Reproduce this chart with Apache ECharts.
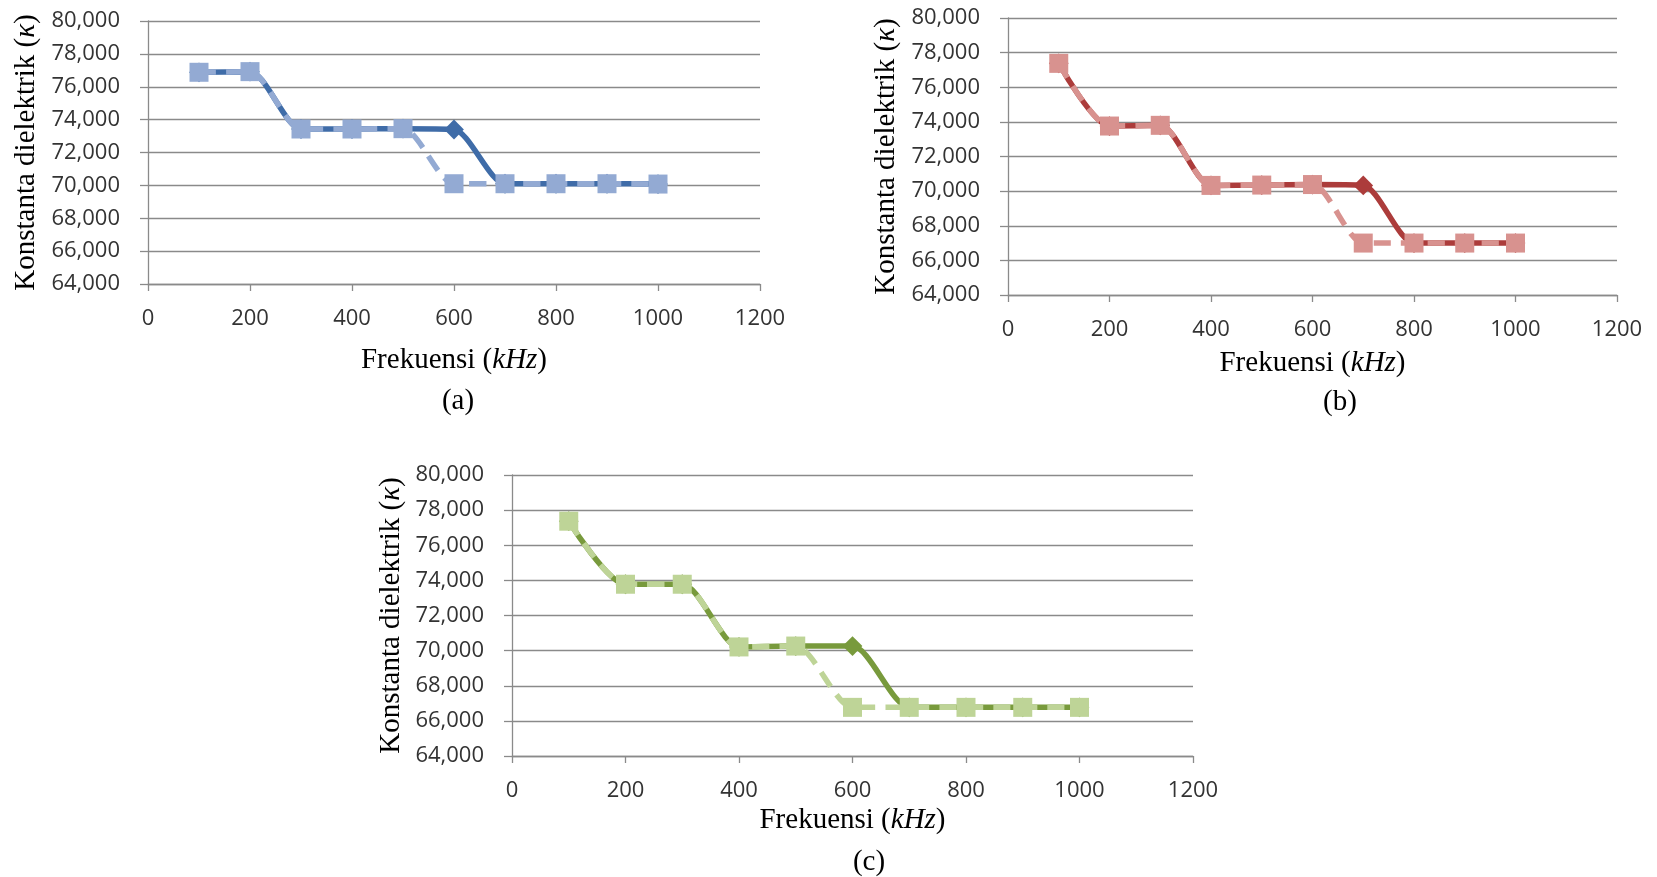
<!DOCTYPE html>
<html>
<head>
<meta charset="utf-8">
<script src="https://cdn.jsdelivr.net/npm/echarts@6/dist/echarts.min.js"></script>
<style>
  html, body { margin: 0; padding: 0; background: #ffffff; }
  #chart { width: 1657px; height: 877px; }
</style>
</head>
<body>
<div id="chart"></div>
<script>
// Frequencies (kHz) shared by all three panels
const freq = [100, 200, 300, 400, 500, 600, 700, 800, 900, 1000];

// Panel (a): dielectric constant, solid curve and dashed curve
const aSolid  = [76880, 76920, 73430, 73430, 73450, 73400, 70100, 70100, 70100, 70080];
const aDashed = [76880, 76920, 73430, 73430, 73450, 70100, 70100, 70100, 70100, 70080];

// Panel (b)
const bSolid  = [77380, 73760, 73800, 70330, 70350, 70380, 70330, 67000, 67000, 67000];
const bDashed = [77380, 73760, 73800, 70330, 70350, 70380, 67000, 67000, 67000, 67000];

// Panel (c)
const cSolid  = [77370, 73780, 73780, 70210, 70260, 70260, 66770, 66770, 66770, 66770];
const cDashed = [77370, 73780, 73780, 70210, 70260, 66770, 66770, 66770, 66770, 66770];

// Axis ranges and tick steps
const xRange = [0, 1200];
const xStep = 200;
const yRange = [64000, 80000];
const yStep = 2000;

// Texts
const panelTags = ['(a)', '(b)', '(c)'];
const xTitle = 'Frekuensi ({i|kHz})';
const yTitle = 'Konstanta dielektrik ({i|κ})';

const serif = '"Liberation Serif", "DejaVu Serif", serif';
const sans = '"Open Sans", "Liberation Sans", sans-serif';
const gridGray = '#8a8a8a';
const titleSize = 29;

const panels = [
  { solid: aSolid, dashed: aDashed, dark: '#3f6ca8', light: '#93aad3',
    grid: { left: 148, top: 21, width: 612, height: 263 }, xGap: 62, yGap: 107,
    tag: { x: 458, y: 401 } },
  { solid: bSolid, dashed: bDashed, dark: '#ac3c3b', light: '#d8928f',
    grid: { left: 1008, top: 18, width: 609, height: 277 }, xGap: 54, yGap: 107,
    tag: { x: 1340, y: 402 } },
  { solid: cSolid, dashed: cDashed, dark: '#789a3c', light: '#bed497',
    grid: { left: 512, top: 475, width: 681, height: 281 }, xGap: 50, yGap: 106,
    tag: { x: 869, y: 862 } }
];

const italicRich = { i: { fontFamily: serif, fontSize: titleSize, fontStyle: 'italic', color: '#000' } };

const option = {
  animation: false,
  backgroundColor: '#ffffff',
  grid: panels.map(p => Object.assign({ containLabel: false }, p.grid)),
  xAxis: panels.map((p, i) => ({
    type: 'value',
    gridIndex: i,
    min: xRange[0], max: xRange[1], interval: xStep,
    name: xTitle,
    nameLocation: 'middle',
    nameGap: p.xGap,
    nameTextStyle: { fontFamily: serif, fontSize: titleSize, color: '#000', rich: italicRich },
    axisLine: { show: true, onZero: false, lineStyle: { color: gridGray, width: 1.3 } },
    axisTick: { show: true, inside: false, length: 7, lineStyle: { color: gridGray, width: 1.3 } },
    axisLabel: { fontFamily: sans, fontSize: 22, color: '#333', margin: 24, formatter: v => String(v) },
    splitLine: { show: false }
  })),
  yAxis: panels.map((p, i) => ({
    type: 'value',
    gridIndex: i,
    min: yRange[0], max: yRange[1], interval: yStep,
    name: yTitle,
    nameLocation: 'middle',
    nameRotate: 90,
    nameGap: p.yGap,
    nameTextStyle: { fontFamily: serif, fontSize: titleSize, color: '#000', rich: italicRich },
    axisLine: { show: true, lineStyle: { color: gridGray, width: 1.3 } },
    axisTick: { show: true, inside: false, length: 8, lineStyle: { color: gridGray, width: 1.3 } },
    axisLabel: {
      fontFamily: sans, fontSize: 22, color: '#333', margin: 28,
      formatter: v => v.toLocaleString('en-US')
    },
    splitLine: { show: true, lineStyle: { color: gridGray, width: 1.3 } }
  })),
  series: panels.flatMap((p, i) => [
    {
      type: 'line',
      xAxisIndex: i, yAxisIndex: i,
      data: freq.map((f, k) => [f, p.solid[k]]),
      smooth: 0.25,
      symbol: 'rect',
      symbolRotate: 45,
      symbolSize: 14,
      lineStyle: { color: p.dark, width: 5.5 },
      itemStyle: { color: p.dark },
      z: 2
    },
    {
      type: 'line',
      xAxisIndex: i, yAxisIndex: i,
      data: freq.map((f, k) => [f, p.dashed[k]]),
      smooth: 0.25,
      symbol: 'rect',
      symbolSize: 19,
      lineStyle: { color: p.light, width: 5.5, type: [17, 10] },
      itemStyle: { color: p.light },
      z: 3
    }
  ]),
  graphic: panels.map((p, i) => ({
    type: 'text',
    x: p.tag.x, y: p.tag.y,
    style: {
      text: panelTags[i],
      fontFamily: serif, fontSize: titleSize, fill: '#000',
      textAlign: 'center', textVerticalAlign: 'middle'
    }
  }))
};

const chart = echarts.init(document.getElementById('chart'), null, { renderer: 'canvas' });
chart.setOption(option);
</script>
</body>
</html>
